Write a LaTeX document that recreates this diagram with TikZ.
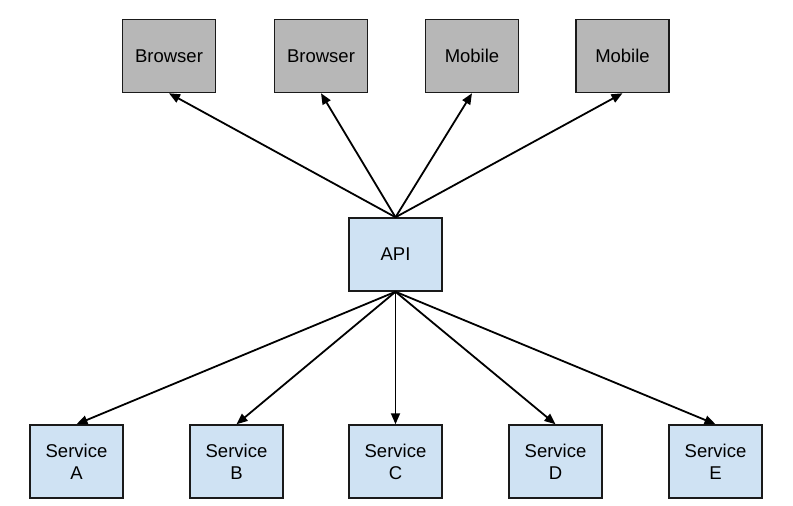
\documentclass[tikz,border=0pt]{standalone}
\usepackage{fontspec}
\setmainfont{Liberation Sans}
\usetikzlibrary{arrows.meta}
\definecolor{graybox}{HTML}{B7B7B7}
\definecolor{bluebox}{HTML}{CFE2F3}
\definecolor{edge}{HTML}{1A1A1A}
\begin{document}
\begin{tikzpicture}[x=1pt,y=-1pt,
  box/.style={draw=edge,line width=1.5pt,minimum width=93pt,minimum height=73pt,inner sep=0pt,align=center,font=\fontsize{18.5}{22}\selectfont},
  client/.style={box,fill=graybox},
  svc/.style={box,fill=bluebox},
  conn/.style={line width=1.8pt,-{Triangle[length=11pt,width=9pt]}}]
\useasboundingbox (0,0) rectangle (793,506);
\node[client] (b1) at (169,56) {Browser};
\node[client] (b2) at (321,56) {Browser};
\node[client] (m1) at (472,56) {Mobile};
\node[client] (m2) at (622.5,56) {Mobile};
\node[svc] (api) at (395.5,254.5) {API};
\node[svc] (sa) at (76.5,461.5) {Service\\A};
\node[svc] (sb) at (236.5,461.5) {Service\\B};
\node[svc] (sc) at (395.5,461.5) {Service\\C};
\node[svc] (sd) at (555.5,461.5) {Service\\D};
\node[svc] (se) at (715.5,461.5) {Service\\E};
\foreach \t in {b1,b2,m1,m2} \draw[conn] (api.north) -- (\t.south);
\foreach \t in {sa,sb,sc,sd,se} \draw[conn] (api.south) -- (\t.north);
\end{tikzpicture}
\end{document}
